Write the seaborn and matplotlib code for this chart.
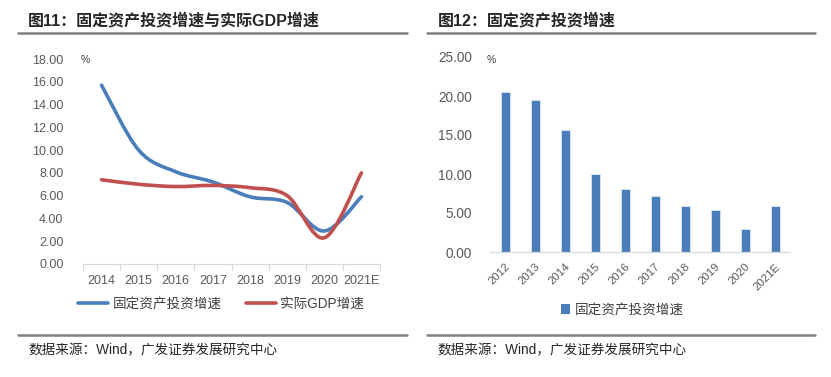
import numpy as np
import pandas as pd
import matplotlib
matplotlib.use("Agg")
import matplotlib.pyplot as plt
import seaborn as sns
from matplotlib.path import Path
from matplotlib.patches import PathPatch, Patch
from matplotlib.lines import Line2D

# ==================== 数据 ====================
years_line = ["2014", "2015", "2016", "2017", "2018", "2019", "2020", "2021E"]
fai_growth = [15.7, 10.0, 8.1, 7.2, 5.9, 5.4, 2.9, 5.9]
gdp_growth = [7.4, 7.0, 6.8, 6.9, 6.7, 6.0, 2.3, 8.0]

years_bar = ["2012", "2013", "2014", "2015", "2016", "2017", "2018", "2019", "2020", "2021E"]
fai_bar = [20.5, 19.5, 15.7, 10.0, 8.1, 7.2, 5.9, 5.4, 2.9, 5.9]

label_fai = "固定资产投资增速"
label_gdp = "实际GDP增速"
title_left = "图11：固定资产投资增速与实际GDP增速"
title_right = "图12：固定资产投资增速"
source = "数据来源：Wind，广发证券发展研究中心"

# ==================== 样式 ====================
sns.set_theme(style="white")
FONTS = ["Liberation Sans", "Noto Sans CJK SC", "DejaVu Sans"]
plt.rcParams["font.family"] = FONTS
plt.rcParams["axes.unicode_minus"] = False

BLUE = "#4A7EBB"
RED = "#C0504D"
TICK = "#595959"
AXIS = "#D9D9D9"
W, H = 831, 377


def fx(px):
    return px / W


def fy(py):
    return 1 - py / H


def smooth_line(ax, line, color):
    """把折线替换成 Excel 风格的平滑曲线 (Catmull-Rom -> Bezier)"""
    pts = np.asarray(line.get_xydata(), dtype=float)
    ext = np.vstack([pts[0], pts, pts[-1]])
    verts = [tuple(pts[0])]
    codes = [Path.MOVETO]
    for i in range(len(pts) - 1):
        p0, p1, p2, p3 = ext[i], ext[i + 1], ext[i + 2], ext[i + 3]
        c1 = p1 + (p2 - p0) / 6
        c2 = p2 - (p3 - p1) / 6
        verts += [tuple(c1), tuple(c2), tuple(p2)]
        codes += [Path.CURVE4] * 3
    patch = PathPatch(Path(verts, codes), facecolor="none", edgecolor=color,
                      lw=2.6, capstyle="round", joinstyle="round", zorder=3)
    ax.add_patch(patch)
    line.set_visible(False)


def panel_frame(fig, x0, x1, title, title_x, src_x):
    fig.add_artist(Line2D([fx(x0), fx(x1)], [fy(33), fy(33)], color="#7F7F7F", lw=1.8))
    fig.add_artist(Line2D([fx(x0), fx(x1)], [fy(335), fy(335)], color="#7F7F7F", lw=1.8))
    fig.text(fx(title_x), fy(21), title, fontsize=11.5, fontweight="bold",
             color="#262626", va="center", ha="left")
    fig.text(fx(src_x), fy(350), source, fontsize=9.8, color="#262626",
             va="center", ha="left")


fig = plt.figure(figsize=(W / 100, H / 100), dpi=100)

# ==================== 图11：折线 ====================
ax1 = fig.add_axes([fx(83), fy(264), fx(380 - 83), (264 - 59) / H])
df_line = pd.DataFrame({"year": years_line, "fai": fai_growth, "gdp": gdp_growth})
sns.lineplot(data=df_line, x="year", y="fai", ax=ax1, color=BLUE, sort=False)
sns.lineplot(data=df_line, x="year", y="gdp", ax=ax1, color=RED, sort=False)
for ln, col in zip(list(ax1.lines), [BLUE, RED]):
    smooth_line(ax1, ln, col)

ax1.set_xlim(-0.5, len(years_line) - 0.5)
ax1.set_ylim(0, 18)
ax1.set_yticks(np.arange(0, 18.1, 2))
ax1.set_yticklabels([f"{v:.2f}" for v in np.arange(0, 18.1, 2)])
ax1.set_xticks(range(len(years_line)))
ax1.set_xticklabels(years_line)
ax1.set_xticks(np.arange(-0.5, len(years_line)), minor=True)
ax1.tick_params(axis="x", which="major", length=0, pad=8, labelsize=9, labelcolor=TICK)
ax1.tick_params(axis="x", which="minor", length=5, width=0.8, color=AXIS, direction="out", bottom=True)
ax1.tick_params(axis="y", length=0, pad=14, labelsize=9, labelcolor=TICK)
ax1.set_xlabel("")
ax1.set_ylabel("")
for s in ["top", "right", "left"]:
    ax1.spines[s].set_visible(False)
ax1.spines["bottom"].set_color(AXIS)
ax1.spines["bottom"].set_linewidth(0.9)
fig.text(fx(81), fy(60), "%", fontsize=7.5, color="#404040", va="center", ha="left")

handles = [Line2D([], [], color=BLUE, lw=2.6, solid_capstyle="round"),
           Line2D([], [], color=RED, lw=2.6, solid_capstyle="round")]
fig.legend(handles, [label_fai, label_gdp], loc="center",
           bbox_to_anchor=(fx(221), fy(304)), ncol=2, frameon=False,
           fontsize=9.8, handlelength=2.2, handletextpad=0.3, columnspacing=1.8,
           labelcolor="#404040")

panel_frame(fig, 18, 407, title_left, 28, 28)

# ==================== 图12：柱状 ====================
ax2 = fig.add_axes([fx(490), fy(252), fx(300), (252 - 57) / H])
df_bar = pd.DataFrame({"year": years_bar, "fai": fai_bar})
sns.barplot(data=df_bar, x="year", y="fai", ax=ax2, color=BLUE, width=0.3,
            saturation=1, edgecolor="#DCE6F2", linewidth=0.6)
ax2.set_xlim(-0.5, len(years_bar) - 0.5)
ax2.set_ylim(0, 25)
ax2.set_yticks(np.arange(0, 25.1, 5))
ax2.set_yticklabels([f"{v:.2f}" for v in np.arange(0, 25.1, 5)])
ax2.set_xticks(range(len(years_bar)))
ax2.set_xticklabels(years_bar, rotation=45, ha="right", rotation_mode="anchor")
ax2.tick_params(axis="x", length=0, pad=7, labelsize=8.2, labelcolor=TICK)
ax2.tick_params(axis="y", length=0, pad=13, labelsize=9.8, labelcolor=TICK)
ax2.set_xlabel("")
ax2.set_ylabel("")
for s in ["top", "right", "left"]:
    ax2.spines[s].set_visible(False)
ax2.spines["bottom"].set_color(AXIS)
ax2.spines["bottom"].set_linewidth(0.9)
fig.text(fx(487), fy(60), "%", fontsize=7.5, color="#404040", va="center", ha="left")

fig.legend([Patch(facecolor=BLUE, edgecolor="none")], [label_fai], loc="center",
           bbox_to_anchor=(fx(622), fy(310)), frameon=False, fontsize=9.8,
           handlelength=0.7, handleheight=0.7, handletextpad=0.3,
           labelcolor="#404040")

panel_frame(fig, 427, 815, title_right, 438, 437)

fig.savefig("out.png", dpi=100)
